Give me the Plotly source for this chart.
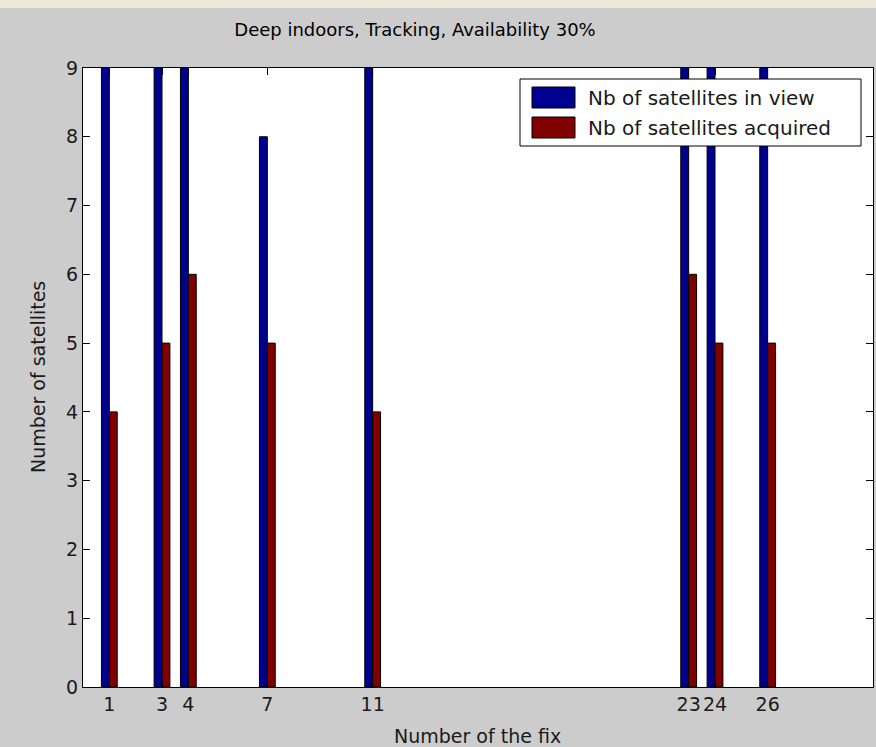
import plotly.graph_objects as go

# ---- data ----
fix_numbers = [1, 3, 4, 7, 11, 23, 24, 26]
sats_in_view = [10, 10, 10, 8, 10, 10, 10, 10]   # bars exceeding 9 are clipped at the top
sats_acquired = [4, 5, 6, 5, 4, 6, 5, 5]
series_names = ["Nb of satellites in view", "Nb of satellites acquired"]
series_colors = ["#00008f", "#800000"]
title_text = "Deep indoors, Tracking, Availability 30%"
x_title = "Number of the fix"
y_title = "Number of satellites"
y_ticks = list(range(0, 10))

W, H = 876, 747
ML, MR, MT, MB = 83, 3, 68, 60
PW, PH = W - ML - MR, H - MT - MB

def px2x(px):
    return (px - ML) / PW

def px2y(py):
    return (H - MB - py) / PH

FONT = "DejaVu Sans, Arial, sans-serif"
TXT = "#1a1a1a"

fig = go.Figure()
for name, vals, col in zip(series_names, [sats_in_view, sats_acquired], series_colors):
    fig.add_trace(go.Bar(
        x=fix_numbers, y=vals, name=name,
        marker=dict(color=col, line=dict(color="black", width=1)),
        showlegend=False,
    ))

shapes = []
annotations = []
# top window strip
shapes.append(dict(type="rect", xref="paper", yref="paper",
                   x0=px2x(0), x1=px2x(W), y0=px2y(8), y1=px2y(0),
                   fillcolor="#ece9d8", line=dict(width=0), layer="below"))
# legend box
shapes.append(dict(type="rect", xref="paper", yref="paper",
                   x0=px2x(520), x1=px2x(861), y0=px2y(146), y1=px2y(79),
                   fillcolor="white", line=dict(color="black", width=1)))
sw_y = [(87, 108), (117, 138)]
for (y0, y1), name, col in zip(sw_y, series_names, series_colors):
    shapes.append(dict(type="rect", xref="paper", yref="paper",
                       x0=px2x(532), x1=px2x(575), y0=px2y(y1), y1=px2y(y0),
                       fillcolor=col, line=dict(color="black", width=1)))
    annotations.append(dict(text=name, xref="paper", yref="paper",
                            x=px2x(586), y=px2y((y0 + y1) / 2),
                            xanchor="left", yanchor="middle", showarrow=False,
                            font=dict(family=FONT, size=20, color=TXT)))
# axis titles
annotations.append(dict(text=x_title, xref="paper", yref="paper",
                        x=px2x(477), y=px2y(736), xanchor="center", yanchor="middle",
                        showarrow=False, font=dict(family=FONT, size=19, color=TXT)))
annotations.append(dict(text=y_title, xref="paper", yref="paper",
                        x=px2x(38), y=px2y(377), xanchor="center", yanchor="middle",
                        textangle=-90, showarrow=False,
                        font=dict(family=FONT, size=19, color=TXT)))

fig.update_layout(
    width=W, height=H,
    margin=dict(l=ML, r=MR, t=MT, b=MB, autoexpand=False),
    paper_bgcolor="#cccccc", plot_bgcolor="white",
    barmode="group", bargap=0.4, bargroupgap=0,
    title=dict(text=title_text, xref="container", yref="container",
               x=415 / W, y=1 - 30 / H, xanchor="center", yanchor="middle",
               font=dict(family=FONT, size=18, color="black")),
    shapes=shapes, annotations=annotations,
    font=dict(family=FONT, color=TXT),
)
fig.update_xaxes(
    range=[0, 30], tickmode="array", tickvals=fix_numbers,
    ticktext=[str(v) for v in fix_numbers], tickangle=0, automargin=False,
    ticks="inside", ticklen=7, tickcolor="black", mirror="ticks",
    showline=True, linecolor="black", linewidth=1, showgrid=False, zeroline=False,
    tickfont=dict(family=FONT, size=19, color=TXT),
)
fig.update_yaxes(
    range=[0, 9], tickmode="array", tickvals=y_ticks, automargin=False,
    ticks="inside", ticklen=7, tickcolor="black", mirror="ticks",
    showline=True, linecolor="black", linewidth=1, showgrid=False, zeroline=False,
    tickfont=dict(family=FONT, size=19, color=TXT),
)

fig.write_html("out.html", config={"displayModeBar": False},
               post_script="document.body.style.margin='0';document.body.style.overflow='hidden';")
